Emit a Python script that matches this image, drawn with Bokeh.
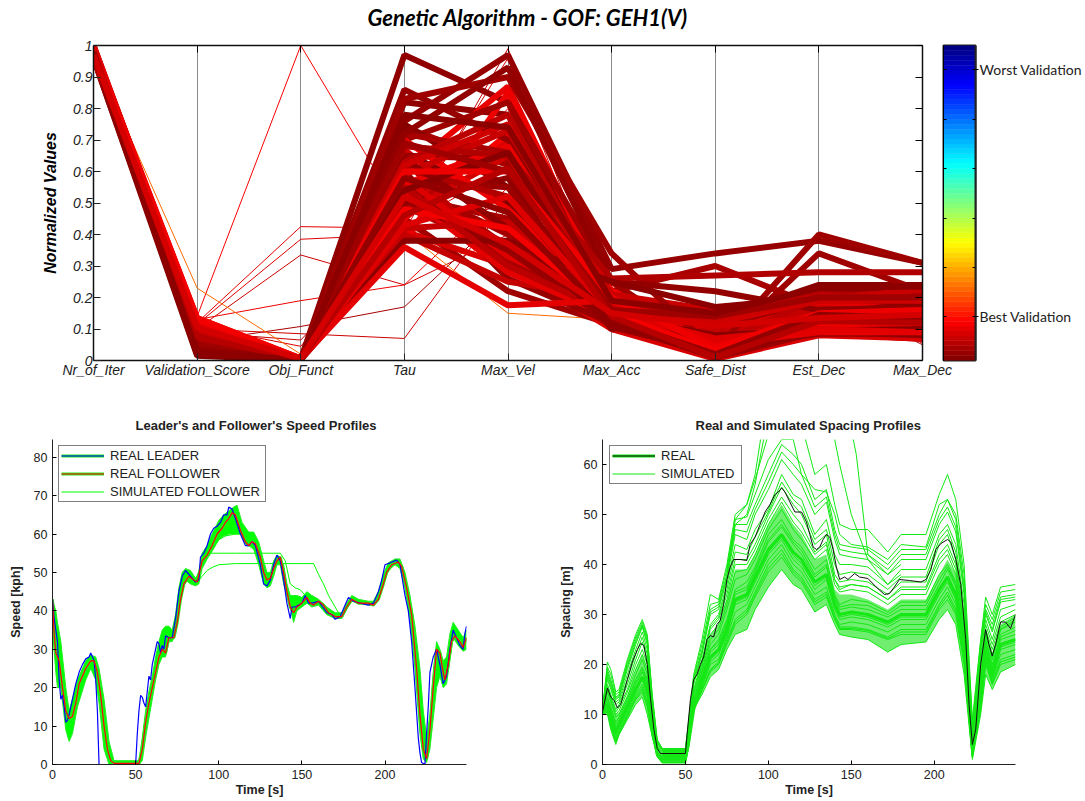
from bokeh.plotting import figure
from bokeh.layouts import column, row
from bokeh.models import LinearAxis, FixedTicker, Legend, LegendItem, Range1d, Label
from bokeh.embed import file_html
from bokeh.resources import INLINE
import numpy as np

# ---------- parallel coordinates ----------
axis_names = ["Nr_of_Iter", "Validation_Score", "Obj_Funct", "Tau", "Max_Vel", "Max_Acc", "Safe_Dist", "Est_Dec", "Max_Dec"]
thick_rows = [
 [.99,.03,.003,.97,.82,.20,.12,.16,.14],
 [.98,.04,.004,.86,.70,.15,.10,.20,.17],
 [.97,.05,.002,.83,.90,.34,.03,.40,.31],
 [1.0,.03,.002,.82,.78,.18,.10,.12,.10],
 [.99,.04,.003,.76,.97,.29,.34,.38,.31],
 [.98,.035,.002,.72,.93,.25,.22,.16,.17],
 [.99,.06,.004,.74,.62,.22,.30,.17,.14],
 [.97,.05,.003,.70,.82,.25,.03,.34,.22],
 [.98,.07,.003,.68,.65,.26,.27,.28,.28],
 [1.0,.02,.002,.66,.50,.17,.13,.24,.24],
 [.96,.015,.001,.75,.55,.16,.15,.225,.215],
 [.97,.025,.002,.38,.38,.25,.17,.20,.18],
 [.97,.05,.003,.45,.22,.115,.06,.19,.23],
 [.96,.03,.002,.50,.58,.10,.16,.22,.24],
 [.98,.08,.003,.55,.30,.15,.05,.20,.20],
 [.97,.06,.004,.52,.45,.13,.14,.18,.15],
 [.97,.045,.002,.57,.55,.12,.01,.09,.08],
 [.99,.03,.003,.64,.42,.11,.02,.10,.08],
 [.97,.07,.003,.49,.34,.10,.03,.12,.10],
 [.98,.04,.003,.60,.26,.12,.015,.14,.13],
 [.99,.02,.002,.54,.66,.14,.08,.095,.10],
 [.97,.065,.003,.59,.36,.13,.12,.155,.175],
 [.98,.09,.003,.40,.25,.20,.10,.12,.12],
 [.97,.08,.003,.63,.78,.18,.14,.21,.19],
 [.99,.10,.004,.67,.40,.13,.11,.18,.21],
 [.98,.10,.004,.47,.65,.16,.06,.13,.13],
 [.96,.10,.005,.62,.75,.18,.12,.19,.19],
 [1.0,.11,.005,.50,.70,.17,.08,.16,.12],
 [.99,.115,.004,.58,.33,.18,.03,.11,.10],
 [1.0,.115,.004,.43,.52,.15,.07,.10,.09],
 [.99,.11,.004,.41,.30,.10,.005,.08,.07],
 [.98,.12,.005,.53,.28,.14,.09,.17,.20],
 [.97,.12,.005,.36,.175,.19,.05,.09,.09],
 [.98,.125,.005,.60,.87,.19,.09,.17,.17],
 [.98,.125,.005,.56,.68,.16,.05,.12,.11],
 [.96,.13,.005,.60,.60,.20,.04,.15,.16],
 [.99,.13,.006,.38,.85,.22,.12,.14,.16],
 [.98,.13,.005,.70,.48,.17,.02,.11,.14],
 [.98,.135,.006,.48,.42,.15,.03,.13,.125],
 [.99,.135,.006,.45,.72,.19,.10,.10,.11],
 [.97,.06,.003,.72,.66,.17,.16,.21,.21],
 [.98,.05,.002,.69,.60,.16,.14,.20,.20],
 [.99,.045,.002,.65,.64,.15,.13,.175,.165],
 [.98,.07,.004,.61,.52,.14,.17,.155,.15],
 [.97,.035,.002,.58,.47,.13,.02,.145,.135],
 [.98,.055,.003,.56,.40,.105,.03,.105,.095],
 [.99,.04,.003,.51,.35,.12,.04,.085,.085],
 [.97,.075,.004,.46,.61,.14,.01,.125,.12],
 [.96,.085,.004,.64,.29,.16,.07,.18,.185],
 [.98,.09,.004,.42,.44,.12,.09,.165,.16],
 [.97,.025,.002,.78,.74,.19,.15,.23,.235],
 [.99,.06,.003,.54,.32,.11,.04,.115,.105],
 [.98,.095,.004,.59,.73,.21,.16,.195,.225],
 [.97,.105,.005,.52,.37,.15,.11,.135,.145],
]
thin_rows = [
 [.97,.14,1.0,.45,.80,.12,.12,.14,.10],
 [.97,.12,.425,.42,.62,.13,.09,.24,.18],
 [.97,.115,.385,.40,.50,.12,.10,.235,.13],
 [.97,.10,.335,.24,.40,.14,.12,.23,.06],
 [.97,.13,.19,.24,.55,.15,.13,.22,.055],
 [.97,.06,.108,.17,.48,.12,.10,.215,.05],
 [.97,.10,.085,.07,.52,.11,.08,.08,.06],
 [.97,.09,.065,.41,.99,.13,.10,.21,.075],
 [.97,.11,.045,.43,.96,.12,.10,.075,.07],
 [.97,.23,.02,.41,.15,.13,.06,.10,.08],
]
colorbar_labelled = [.139, .924]
colorbar_unlabelled = [.295, .451, .609, .765]

# ---------- speed panel ----------
leader_t = [0,1,3,4,5,6,7,8,9,10,12,14,16,18,20,22,23,25,26,27,28,50,51,52,53,54,55,56,57,58,59,60,62,63,64,65,66,67,68,70,72,74,76,78,80,83,86,88,89,91,93,95,97,99,101,103,105,106,108,110,113,116,118,120,122,125,127,129,131,133,135,137,139,141,143,144,146,148,150,152,154,156,160,165,168,170,173,176,178,181,185,190,193,196,198,200,203,207,209,212,214,216,218,220,221,222,224,225,226,227,229,231,233,235,237,239,241,243,245,247,248,249]
leader_v = [43,38,32,22,17,18,15,11,11.5,13,17,21,24,26,27.5,28,29,27,22,14,0,0,8,14,18,17.5,16,15,19,23,22,26,30,32,31.5,29,31,30,33.5,33,33,38,45,49,50.5,49,47.5,48,54,55,57,60,61.5,62,63,65,65,67,66.5,64,60,57,57,58,57,52,47,46.5,48,52,54.5,53,48,42,38,41,41,41.5,42,44,42,42,42.5,39.5,39,37.8,38.5,41.5,43.5,42.5,42,41.5,42,45,48,52,52.5,53.2,52,44,40,32,20,7,3,0.5,0,8,15,24,28,30,26,21,23,30,35,33,31,30,34,36]
follower_t = [0,1,2,4,6,8,10,12,14,16,18,20,23,25,27,29,31,33,35,37,52,54,56,58,60,62,64,66,68,70,73,75,77,79,82,85,87,90,93,96,99,102,104,106,108,110,113,116,118,120,122,125,127,129,131,133,135,137,139,141,143,145,147,150,153,155,157,160,163,166,170,174,177,180,184,190,193,196,199,201,204,208,210,213,216,219,221,223,225,227,229,231,233,235,236,238,240,242,245,247,249]
follower_v = [43,34,29,27,20,14,12,12.5,16,21,23,25,27,27,24,18,10,4,1,0.3,0.3,4,11,16,20,24,28,30,29,33,33,37,43,47,49,48,47.5,53,54.5,57,60,61.5,63,64,65.5,65,61,58,57,58,57.5,54,50,48,48.5,51,53,54,50,45,41,39.5,41,42,43.5,42,41.5,42.5,41.5,39.5,38.5,38.5,41,43,42,42,41.5,43,47,50,52,52.7,51.5,46,39,25,13,4,1.5,9,20,30,29,24,22,26,32,33.5,32,30.5,33]
speed_band_t = [0,2,3,5,8,10,12,15,20,23,26,28,31,34,37,52,54,56,58,60,62,64,66,68,70,72,74,76,78,80,83,86,88,90,93,96,100,103,106,109,111,114,118,121,124,127,129,131,133,135,137,139,141,143,145,147,150,153,156,160,165,170,174,177,180,184,190,193,196,199,202,206,209,212,215,218,221,223,225,227,229,231,233,235,237,239,241,244,247,249]
speed_band_low = [35,24,20,20,9,6,8,15,22,25,22,16,4,0,0,0,1,7,12,17,22,26,28,28,32,32,34,40,45,48,47,46.5,47,51,53.5,55.5,58.5,59.5,60,60,60,60,57,56,52,47,46,46.5,49,52,52,47,44,41,37,40,41,42,41,41.5,39,38,38,40.5,42.5,42,41.5,41.5,43,47,50.5,52,51,46,38,25,8,1.5,0.5,4,12,20,23,20,21,27,33,31,29.5,30]
speed_band_high = [43,40,37,32,20,14,17,22,27,28.5,28,25,17,6,1,1,7,14,19,23,28,32,35,36,36,35,39,46,50,51,50.5,48.5,50,55,57,60,63.5,65,66,67,67.5,63,60.5,60.5,58,53,50,50,53,54.5,54,52,47,44,44,44,43.5,45,44,43,41,39.5,39.5,42,44,43,42.5,42.5,45,49.5,52.5,53.5,53.5,50,44,36,25,14,7,13,24,32,30,27,28,34,37,35,33,35]
cap52_t = [85,88,90,93,96,100,110,120,130,140,150,157,160,163,166,170,172]
cap52_v = [47.5,48,49,50.5,51.3,52,52.3,52.3,52.3,52.3,52.3,52.3,49.5,47,44,41,39.5]
cap55_t = [90,95,110,125,137,140,143,146,149,152,156,160]
cap55_v = [52,55,55,55,55,53,47,46,45.5,44,43,42.5]
cap60_t = [92,96,100,104,110,118]
cap60_v = [53.5,56,58.5,59.5,60,60]

# ---------- spacing panel ----------
real_t = [0,3,5,7,9,11,15,18,21,23,25,27,29,31,33,35,50,51,53,55,57,59,61,63,65,67,69,71,73,75,77,79,83,87,89,92,95,98,101,104,106,108,110,113,116,120,123,125,127,129,131,133,135,137,139,141,143,146,148,152,155,160,165,170,173,176,179,185,192,195,198,201,204,208,210,213,216,219,221,223,225,228,231,233,235,237,240,243,246,249]
real_s = [10.5,15.3,13.5,12.8,11.3,12,17,20.5,23,24.2,23.8,20,13,7,3.2,2.2,2.2,6,13,17,18,20,21.5,25,25.8,25.5,28,28.8,32,37,39.5,41,41,40.8,44,45.5,48,50.5,52,54,54.5,55.3,54.5,52.5,50.5,50.5,48.5,46,43.5,43,43.5,45,46,45.5,43,39.5,37,37.5,37,38.2,37.5,37.2,35.5,34,34.2,35.5,37,36.8,36.5,37,39,43,44.2,45,44.5,41,36,25,12,4,7,20,27,24,21.7,24,28.5,28.5,27.2,30]
sim_t = [0,3,5,8,10,15,20,24,27,30,33,36,50,52,55,60,65,70,75,80,87,92,100,108,115,120,128,135,140,143,150,160,172,180,195,203,208,213,218,223,228,231,235,240,249]
sim_band_low = [10,10,7,4,6,9,12,13.5,10,5.5,1.5,0.3,0.3,6,11,14,17.5,19,23,26,27,31,35.5,39,36,35,30.5,32,28,26,25.5,25,22.5,24,24.5,29,31,28,18,1,10,18,15,18.5,20]
sim_band_high = [10.5,15,13,10,10.5,14,19,22,19,10,3,2,2,6,13,19,26,28,33,39,39,42,48,52,48,46,41,42,35,34,34,33,31,33,33,38,41,38,28,5,15,27,22,28,30]
sim_lines = [
 [10,10,7,4,6,9,12,13.5,10,5.5,1.5,0.3,0.3,6,11,14,17.5,19,23,26,27,31,35.5,39,36,35,30.5,32,28,26,25.5,25,22.5,24,24.5,29,31,28,18,1,10,18,15,18.5,20],
 [11,20.5,19,14.5,15,21,26,29,26,14,5,3.2,3.2,9,18,25,34,33,40,50,52,57,66,72,72,68,58,60,52,48,47,47,42.5,46,46,54,58,53,40,9,25,33.5,30,35.5,36],
 [11,19.5,18,14,14.5,20.5,25.5,28.5,25.5,13.5,4.8,3.2,3.2,8.5,17.5,24,32,32.5,39,49,49.5,54,61,65,65,58,55,54.5,50,46,44,43.5,41,44,43.5,52,53,50,38,8,24.5,32,29,34.5,35],
 [11,17.5,15.5,12.5,13,18,23,26.5,23,12,3.8,2.8,2.8,7,15,21,28,30,36,44,43,47,51,58,54,53,46,49,42,40,40,39.5,36,39,39,46,48,44,32,6,22,29,25,31,32],
 [11,19,17,13.5,14,20,25,28,25,13,4.5,3,3,8,17,23,31,32,38,48,48,52,58,64,62,60,53,55,47,44,43.5,43,40,43,43,50,53,49,36,7,24,31,28,33.5,34],
 [10.8,16,14,11,12,16,21,24.5,21,11,3.4,2.6,2.6,6.5,14,20,27,29,34,41,41,44,50,55.5,52,50,44,46,38,36.5,37,36.5,34,36.5,36.5,44,46,41,29,5,20,27,23,28.5,30],
 [10.5,14.5,12.5,9.5,10,13.5,18,21,18,9.5,3,2,2,6,12.5,18.5,24,26,31,37,38,41,47,51,47,45,41,43,36,34.5,35,34.5,32,34,34,40,42,38,27,4.5,17,26,21,27,29],
 [10.4,13.5,11.5,8.5,9.5,13,17,19.5,17,8.5,2.5,1.8,1.8,5.5,12,18,23,25,29,35,36.5,39.5,46,49,45,43.5,39,41,34,32,33,32.5,30.5,32.5,32.5,38,40,36.5,26,4,16,25,20,26,27.5],
 [10.3,12.5,10.5,7.5,8.5,12,16,18.5,16,8,2.2,1.4,1.4,5,11.5,17,22.5,24,28,34,35,38.5,44.5,47.5,44,42,37.5,39.5,33,31,31.5,31,29.5,31,31,36,39,35.5,25,3.5,15,24,19,25,26],
 [10.2,12,9.5,6.5,8,11.5,15,17.5,15,7.5,2,1.1,1.1,4.5,11,16.5,21.5,23,27,33,34,37.5,43,46,42.5,41,36.5,38,32,30,30.5,30,28.5,30,30,35,37.5,34,24,3,14,23,18,24,25],
 [10.2,11.5,9,6,7.5,11,14.5,17,14,7,1.9,0.9,0.9,4.2,11,16,20.5,22,26,32,33,36.5,42,45,41,39.5,35,37,31,29,29.5,29,27.5,29,29,34,36.5,33,23,2.5,13,22,17.5,23,24],
 [10.1,11,8.5,5.5,7,10.5,14,16,13.5,6.5,1.8,0.7,0.7,4,11,15.5,20,21,25.5,30.5,32,35.5,41,44,40,38.5,34,35.5,30,28,28.5,28,26.5,28,28,33,35.5,32,22,2,12.5,21.5,17,22,23],
 [10,10.8,8,5,6.5,10,13.5,15.5,12.5,6,1.7,0.5,0.5,3.8,11,15,19,20.5,25,29,31,34.5,40,43,39,37.5,33,34.5,29.5,27.5,27.5,27,25.5,27,27,32,34.5,31,21,1.7,12,21,16.5,21,22],
 [10,10.5,7.5,4.5,6,9.5,13,14.5,11.5,5.8,1.6,0.4,0.4,3.5,11,14.8,18.5,20,24,28,30,33.5,38.5,41.5,38,36.5,32,33.5,29,27,27,26.5,25,26,26,31,33,30,20,1.4,11,20,16,20,21],
 [11,18,16,13,13.5,19,24,27.5,24,12.5,4.2,3,3,7.5,16,22,30,31,37,46,45,50,55,61,58,56,50,52.5,45,42,41.5,41,38,41,41,48,50.5,46.5,34,6.5,23,30,26.5,32.5,33],
 [10.7,15.5,13.5,10.5,11.5,15,20,23,20,10.5,3.2,2.4,2.4,6.3,13.5,19.5,26,28,33,40,40,43,49,53.5,50,48,42.5,44.5,37,35.5,36,35.5,33,35.5,35.5,42,44,40,28,4.8,18.5,26.5,22,27.5,29.5],
 [10.9,17,15,12,12.5,17,22,25.5,22,11.5,3.6,2.7,2.7,6.8,14.5,20.5,27.5,29.5,35,42.5,42,45.5,50.5,56.5,53,51.5,45,47,40,38,38.5,38,35,37.5,37.5,45,47,42.5,30,5.5,21,28,24,29.5,31],
 [10.6,15,13,10,10.8,14.5,19,22,19,10,3.1,2.2,2.2,6.2,13,19,25,27,32,38.5,39,42,48,52.5,48.5,46.5,42,44,37,35,36,35.5,33,35,35,41,43,39,27.5,4.6,17.5,26,21.5,27,28.5],
 [10.3,13,11,8,9,12.5,16.5,19,16.5,8.2,2.3,1.6,1.6,5.2,11.8,17.5,23,24.5,28.5,34.5,35.5,39,45,48,44.5,42.8,38,40,33.5,31.5,32,31.8,30,31.8,31.8,37,39.5,36,25.5,3.7,15.5,24.5,19.5,25.5,26.8],
 [10.15,11.8,9.2,6.2,7.8,11.2,14.8,17.3,14.5,7.2,1.95,1,1,4.3,11,16.2,21,22.5,26.5,32.5,33.5,37,42.5,45.5,41.8,40.2,35.8,37.5,31.5,29.5,30,29.5,28,29.5,29.5,34.5,37,33.5,23.5,2.7,13.5,22.5,17.8,23.5,24.5],
 [10.05,10.6,7.8,4.8,6.2,9.8,13.2,15,12,5.9,1.65,0.45,0.45,3.6,11,14.9,18.8,20.2,24.5,28.5,30.5,34,39.2,42.2,38.5,37,32.5,34,29.2,27.2,27.2,26.8,25.2,26.5,26.5,31.5,33.8,30.5,20.5,1.5,11.5,20.5,16.2,20.5,21.5],
 [11,18.5,16.5,13.2,13.8,19.5,24.5,27.8,24.5,12.8,4.3,3,3,7.8,16.5,22.5,30.5,31.5,37.5,47,46.5,51,56.5,62.5,60,58,51.5,53.5,46,43,42.5,42,39,42,42,49,51.5,47.5,35,6.8,23.5,30.5,27,33,33.5],
]
outlier_a_t = [75,80,87,92,100,108,115,120,128,135,140,143,150,160,172,180]
outlier_a_s = [38,48,50,56,70,80,80,80,75,70,65,60,50,41,36,38]
outlier_b_t = [75,80,87,92,100,108,115,120,128,135,140,143,150,153,160,172,180]
outlier_b_s = [39,49,52,58,75,95,100,100,95,85,80,75,67,62,42,38,40]

FONT = "Liberation Sans"
INK = "#222222"


def jet(t):
    r = np.clip(min(4 * t - 1.5, -4 * t + 4.5), 0, 1)
    g = np.clip(min(4 * t - 0.5, -4 * t + 3.5), 0, 1)
    b = np.clip(min(4 * t + 0.5, -4 * t + 2.5), 0, 1)
    return "#%02x%02x%02x" % (int(r * 255), int(g * 255), int(b * 255))


def score_colour(score):
    return jet(1 - 1.554 * score ** 1.3)


def hide_labels(axis):
    axis.major_label_text_color = None
    axis.major_label_text_font_size = "1px"
    axis.major_label_standoff = 0


# ---------- title strip ----------
banner = figure(width=1085, height=34, x_range=Range1d(0, 1085), y_range=Range1d(0, 34),
                output_backend="svg", toolbar_location=None,
                min_border_left=0, min_border_right=0, min_border_top=0, min_border_bottom=0)
banner.xaxis.visible = False
banner.yaxis.visible = False
banner.grid.visible = False
banner.outline_line_color = None
banner.add_layout(Label(x=367, y=17, text="Genetic Algorithm - GOF: GEH1(V)", text_font="Lato",
                        text_font_size="22px", text_font_style="bold italic", text_color="#000000",
                        text_baseline="middle"))

# ---------- top parallel-coordinates figure ----------
positions = list(range(1, len(axis_names) + 1))
top = figure(frame_width=829, frame_height=315, x_range=Range1d(1, 9), y_range=Range1d(0, 1),
             output_backend="svg", toolbar_location=None,
             min_border_left=93, min_border_right=35, min_border_top=11, min_border_bottom=25)
top.outline_line_color = None
top.ygrid.visible = False
top.xgrid.ticker = FixedTicker(ticks=positions)
top.xgrid.grid_line_color = "#8a8a8a"
top.xgrid.grid_line_width = 1

ax = top.xaxis[0]
ax.ticker = FixedTicker(ticks=positions)
ax.major_label_overrides = {p: n for p, n in zip(positions, axis_names)}
ay = top.yaxis[0]
yt = [i / 10 for i in range(11)]
ay.ticker = FixedTicker(ticks=yt)
ay.major_label_overrides = {0: "0", 0.1: "0.1", 0.2: "0.2", 0.3: "0.3", 0.4: "0.4", 0.5: "0.5", 0.6: "0.6", 0.7: "0.7", 0.8: "0.8", 0.9: "0.9", 1: "1"}
ay.axis_label = "Normalized Values"
ay.axis_label_text_font = FONT
ay.axis_label_text_font_size = "16px"
ay.axis_label_text_font_style = "bold italic"
ay.axis_label_text_color = "#000000"
ay.axis_label_standoff = 11
for a in (ax, ay):
    a.major_label_text_font = FONT
    a.major_label_text_font_size = "14px"
    a.major_label_text_font_style = "italic"
    a.major_label_text_color = INK
    a.major_tick_in = 7
    a.major_tick_out = 0
    a.minor_tick_line_color = None
    a.axis_line_color = "#111111"
    a.axis_line_width = 1.5
    a.major_tick_line_color = "#222222"
    a.major_label_standoff = 1
extra_x = LinearAxis(ticker=FixedTicker(ticks=positions), major_tick_in=7, major_tick_out=0,
                     minor_tick_line_color=None, axis_line_color="#111111", axis_line_width=1.5)
extra_y = LinearAxis(ticker=FixedTicker(ticks=yt), major_tick_in=7, major_tick_out=0,
                     minor_tick_line_color=None, axis_line_color="#111111", axis_line_width=1.5)
hide_labels(extra_x)
hide_labels(extra_y)
top.add_layout(extra_x, "above")
top.add_layout(extra_y, "right")

for r in thin_rows:
    top.line(positions, r, line_color=score_colour(r[1]), line_width=1)
for start in range(3):
    for r in thick_rows[start::3]:
        top.line(positions, r, line_color=score_colour(r[1]), line_width=6)

# ---------- colour bar ----------
cb = figure(frame_width=32, frame_height=315, x_range=Range1d(0, 1), y_range=Range1d(0, 1),
            output_backend="svg", toolbar_location=None,
            min_border_left=8, min_border_right=110, min_border_top=11, min_border_bottom=25,
            border_fill_color=None, margin=(0, 0, 0, -22))
levels = np.linspace(0, 1, 65)
slice_colours = [jet(1 - (a + b) / 2) for a, b in zip(levels[:-1], levels[1:])]
cb.quad(left=0, right=1, bottom=levels[:-1], top=levels[1:],
        fill_color=slice_colours, line_color=slice_colours, line_width=0.5)
cb.grid.visible = False
cb.xaxis.visible = False
cb.outline_line_color = "#222222"
cb.outline_line_width = 2
cb_left = cb.yaxis[0]
cb_left.ticker = FixedTicker(ticks=colorbar_labelled + colorbar_unlabelled)
cb_left.major_tick_in = 3
cb_left.major_tick_out = 0
cb_left.minor_tick_line_color = None
hide_labels(cb_left)
cb_right = LinearAxis(ticker=FixedTicker(ticks=colorbar_labelled, minor_ticks=colorbar_unlabelled),
                      major_label_overrides={colorbar_labelled[0]: "Best Validation", colorbar_labelled[1]: "Worst Validation"},
                      major_label_text_font="Lato", major_label_text_font_size="14px",
                      major_label_text_color=INK, major_tick_in=3, major_tick_out=3,
                      minor_tick_in=3, minor_tick_out=0,
                      major_label_standoff=1, axis_line_color="#222222", axis_line_width=2)
cb.add_layout(cb_right, "right")


def panel(title, ylabel, title_offset, ymax, yticks, left, right, frame_w):
    p = figure(frame_width=frame_w, frame_height=325, x_range=Range1d(0, 249), y_range=Range1d(0, ymax),
               output_backend="svg", toolbar_location=None,
               min_border_left=left, min_border_right=right, min_border_top=54, min_border_bottom=37)
    p.title.text = title
    p.title.align = "left"
    p.title.offset = title_offset
    p.title.text_font = FONT
    p.title.text_font_size = "13px"
    p.title.text_font_style = "bold"
    p.title.text_color = INK
    p.title.standoff = 14
    p.outline_line_color = None
    p.grid.visible = False
    for a, tk, lab, off in ((p.xaxis[0], [0, 50, 100, 150, 200], "Time [s]", 1), (p.yaxis[0], yticks, ylabel, 8)):
        a.ticker = FixedTicker(ticks=tk)
        a.axis_label = lab
        a.axis_label_text_font = FONT
        a.axis_label_text_font_size = "12.5px"
        a.axis_label_text_font_style = "bold"
        a.axis_label_text_color = INK
        a.axis_label_standoff = off
        a.major_label_text_font = FONT
        a.major_label_text_font_size = "12.5px"
        a.major_label_text_color = INK
        a.major_label_standoff = 5
        a.major_tick_in = 4
        a.major_tick_out = 0
        a.minor_tick_line_color = None
        a.axis_line_color = "#222222"
    return p


def make_legend(items, location, label_width):
    return Legend(items=items, location=location, margin=0, padding=2, spacing=3, glyph_width=43,
                  glyph_height=13, label_height=13, label_width=label_width, label_standoff=6,
                  label_text_font=FONT, label_text_font_size="13px", label_text_color=INK,
                  border_line_color="#000000", border_line_width=1.5)


# ---------- speed ----------
sp = panel("Leader's and Follower's Speed Profiles", "Speed [kph]", 83, 84.6, list(range(0, 81, 10)), 52, 50, 414)
n = min(len(speed_band_t), len(speed_band_low), len(speed_band_high))
sp.varea(speed_band_t[:n], speed_band_low[:n], speed_band_high[:n], fill_color="#00ff00")
sp.line(speed_band_t[:n], speed_band_high[:n], line_color="#22ee22", line_width=1)
sp.line(speed_band_t[:n], speed_band_low[:n], line_color="#22ee22", line_width=1)
cap_r = sp.line(cap52_t, cap52_v, line_color="#00ff00", line_width=1)
sp.line(cap55_t, cap55_v, line_color="#00ff00", line_width=1)
sp.line(cap60_t, cap60_v, line_color="#00ff00", line_width=1)
under_sp = sp.line(follower_t, follower_v, line_color="#22ee22", line_width=3)
lead_r = sp.line(leader_t, leader_v, line_color="#0000ff", line_width=1.2)
foll_r = sp.line(follower_t, follower_v, line_color="#ff0000", line_width=1.2)
sp.add_layout(make_legend([LegendItem(label="REAL LEADER", renderers=[under_sp, lead_r]),
                           LegendItem(label="REAL FOLLOWER", renderers=[under_sp, foll_r]),
                           LegendItem(label="SIMULATED FOLLOWER", renderers=[cap_r])], (6, 262), 153))

# ---------- spacing ----------
gp = panel("Real and Simulated Spacing Profiles", "Spacing [m]", 93, 65, list(range(0, 61, 10)), 86, 70, 413)
gp.varea(sim_t, sim_band_low, sim_band_high, fill_color="#6fee6f")
sim_r = None
for s in sim_lines:
    sim_r = gp.line(sim_t[:len(s)], s, line_color="#15e815", line_width=1)
gp.line(outlier_a_t, outlier_a_s, line_color="#15e815", line_width=1)
gp.line(outlier_b_t, outlier_b_s, line_color="#15e815", line_width=1)
under_r = gp.line(sim_t, sim_lines[9], line_color="#15e815", line_width=3)
real_r = gp.line(real_t, real_s, line_color="#111111", line_width=1)
gp.add_layout(make_legend([LegendItem(label="REAL", renderers=[under_r, real_r]),
                           LegendItem(label="SIMULATED", renderers=[sim_r])], (7, 280), 78))

page = column(banner, row(top, cb, spacing=0), row(sp, gp, spacing=0), spacing=0)
open("out.html", "w").write(file_html(page, INLINE))
